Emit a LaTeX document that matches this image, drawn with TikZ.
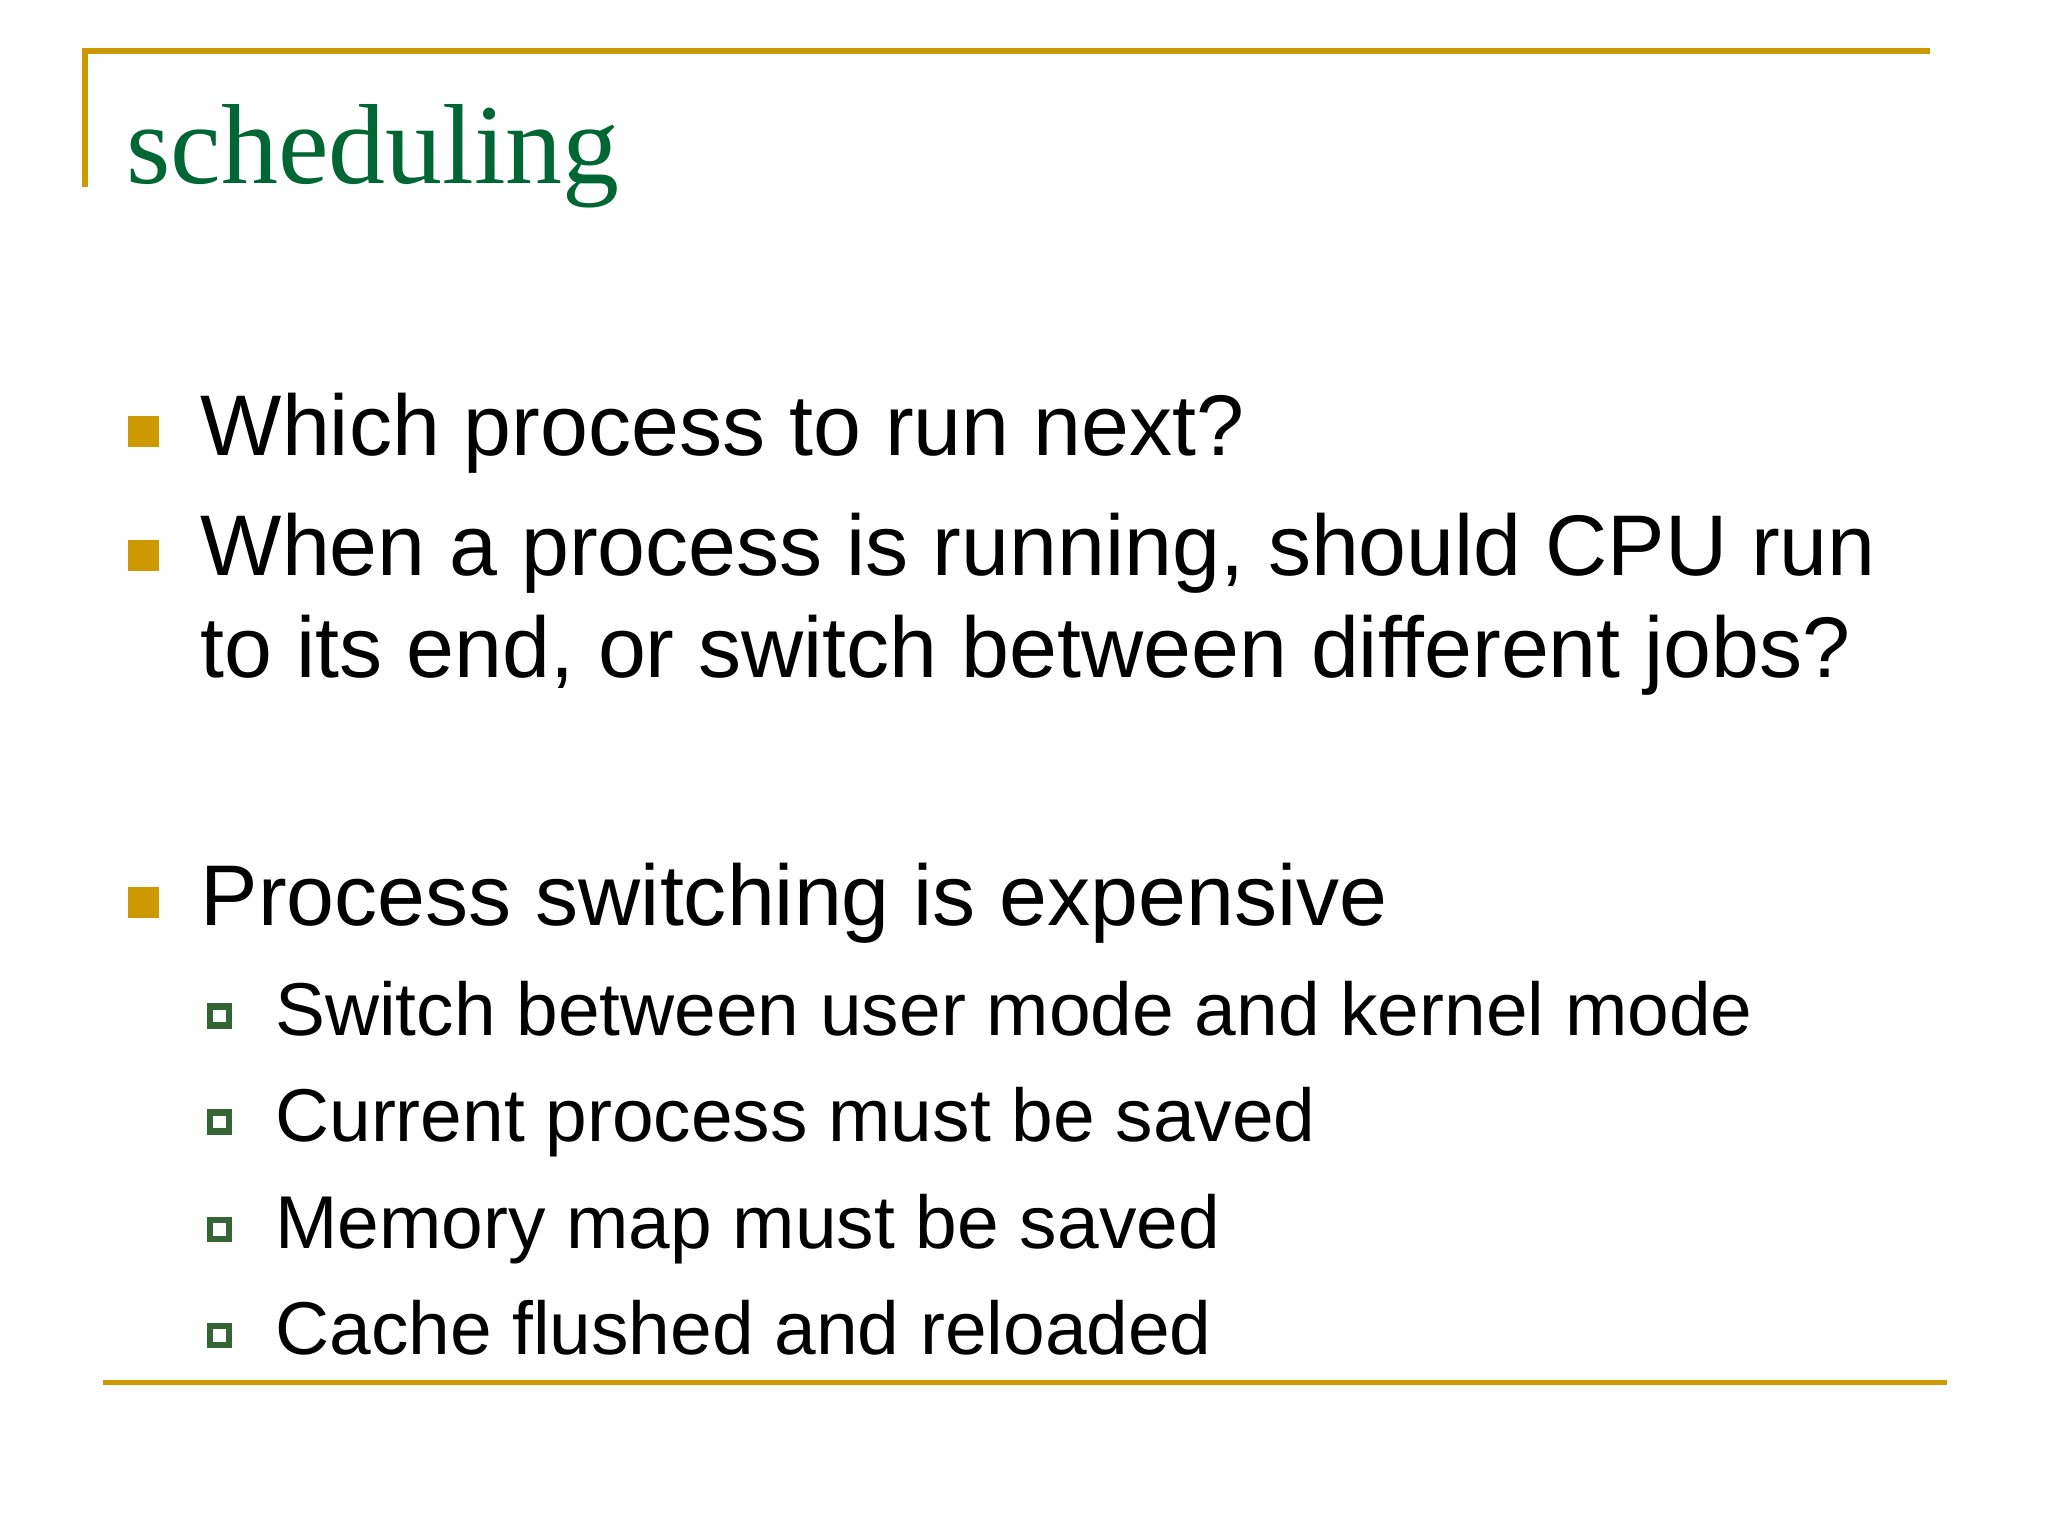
\documentclass[tikz,border=0pt]{standalone}
\usepackage{fontspec}
\setmainfont{Liberation Sans}
\newfontfamily\titlefont{Liberation Serif}
\definecolor{gold}{RGB}{204,153,0}
\definecolor{tgreen}{RGB}{0,102,51}
\definecolor{sgreen}{RGB}{51,102,51}
\begin{document}
\begin{tikzpicture}[x=0.01308cm,y=-0.01308cm,
  txt/.style={anchor=base west,inner sep=0pt,font=\fontsize{24.5}{30}\selectfont},
  sub/.style={anchor=base west,inner sep=0pt,font=\fontsize{21.3}{26}\selectfont},
  gbullet/.style={fill=gold,minimum size=0.31cm,inner sep=0pt},
  sbullet/.style={draw=sgreen,line width=1.8pt,minimum size=0.19cm,inner sep=0pt}]
\fill[white] (0,0) rectangle (1566,1175);
\useasboundingbox (0,0) rectangle (1566,1175);
\coordinate (tl) at (65,39); \coordinate (tr) at (1476,39); \coordinate (tb) at (65,143);
\draw[gold,line width=1.5pt] (tb) -- (tl) -- (tr);
\coordinate (bl) at (79,1057); \coordinate (br) at (1489,1057);
\draw[gold,line width=1.5pt] (bl) -- (br);
\node[anchor=base west,inner sep=0pt,text=tgreen,font=\titlefont\fontsize{32.4}{38}\selectfont] (title) at (96,140) {scheduling};
\node[gbullet] (b1) at (110,330) {};
\node[txt] (t1) at (153,348) {Which process to run next?};
\node[gbullet] (b2) at (110,425) {};
\node[txt] (t2) at (153,440) {When a process is running, should CPU run};
\node[txt] (t2b) at (153,518) {to its end, or switch between different jobs?};
\node[gbullet] (b3) at (110,690) {};
\node[txt] (t3) at (153,708) {Process switching is expensive};
\node[sbullet] (s1) at (168,777) {};
\node[sub] (u1) at (210,792) {Switch between user mode and kernel mode};
\node[sbullet] (s2) at (168,858) {};
\node[sub] (u2) at (210,873) {Current process must be saved};
\node[sbullet] (s3) at (168,940) {};
\node[sub] (u3) at (210,955) {Memory map must be saved};
\node[sbullet] (s4) at (168,1021) {};
\node[sub] (u4) at (210,1036) {Cache flushed and reloaded};
\end{tikzpicture}
\end{document}
